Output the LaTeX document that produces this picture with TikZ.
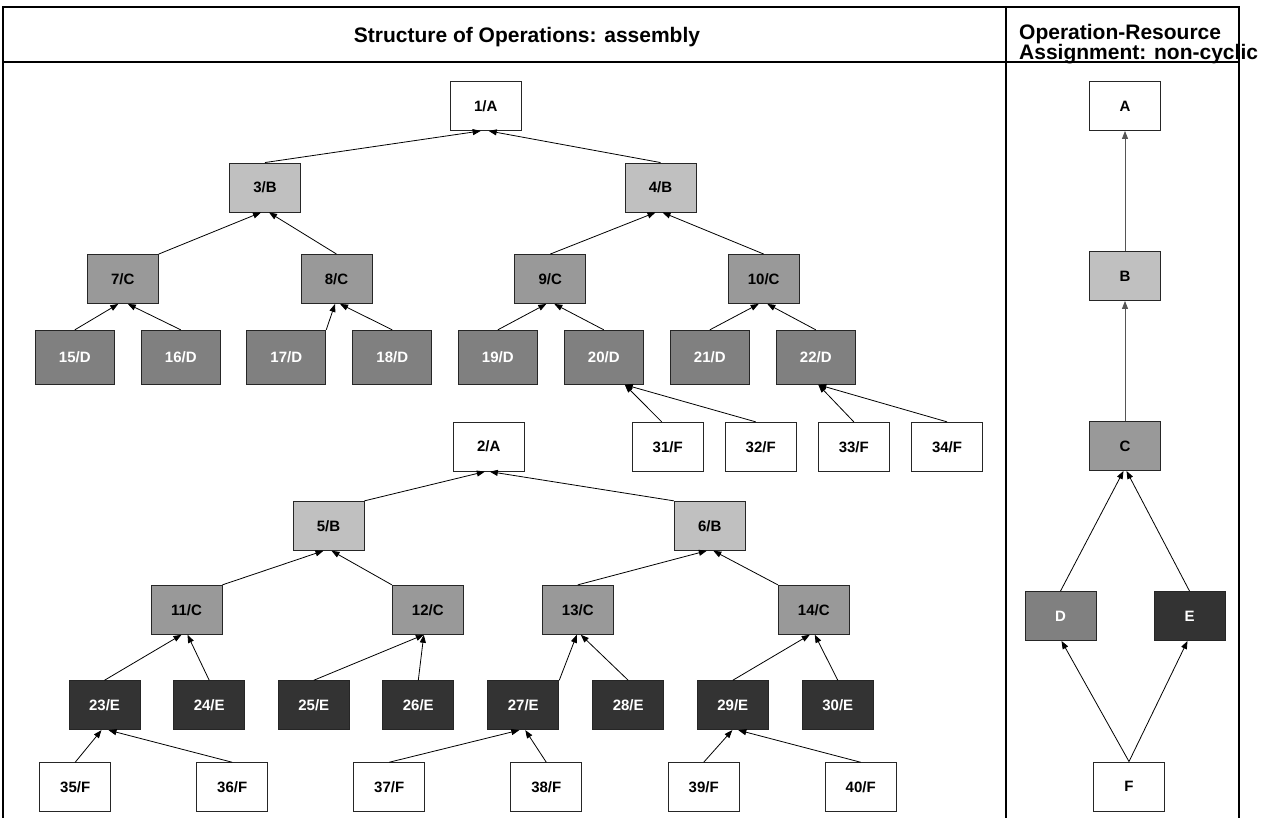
\documentclass[tikz,border=0pt]{standalone}
\usepackage{fontspec}
\setmainfont{Liberation Sans}
\usetikzlibrary{arrows.meta,calc}
\definecolor{cB}{HTML}{C0C0C0}
\definecolor{cC}{HTML}{999999}
\definecolor{cD}{HTML}{808080}
\definecolor{cE}{HTML}{333333}
\definecolor{edgeGray}{HTML}{555555}
\tikzset{
  opbox/.style={draw=black!85, line width=0.9pt, minimum width=71pt, minimum height=49pt,
    inner sep=0pt, font=\fontsize{15}{18}\selectfont\bfseries},
  boxA/.style={opbox, fill=white},
  boxB/.style={opbox, fill=cB},
  boxC/.style={opbox, fill=cC},
  boxD/.style={opbox, fill=cD, text=white, minimum width=79pt, minimum height=54pt},
  boxE/.style={opbox, fill=cE, text=white},
  boxF/.style={opbox, fill=white},
  conn/.style={-{Triangle[length=8pt,width=6pt]}, line width=0.8pt, black},
  gconn/.style={conn, edgeGray},
  frameline/.style={line width=1.1pt, black},
  headtext/.style={font=\fontsize{21}{21}\selectfont\bfseries, inner sep=0pt}
}
\begin{document}
\begin{tikzpicture}[x=1pt,y=-1pt]
\useasboundingbox (0,0) rectangle (1276,818);
% frame
\draw[frameline] (3,818) -- (3,7) -- (1239,7) -- (1239,818);
\draw[frameline] (1006,7) -- (1006,818);
\draw[frameline] (3,62) -- (1239,62);
% headers
\node[headtext] (title) at (527,37) {Structure of Operations: assembly};
\node[headtext, anchor=base west] (hr1) at (1019,39.3) {Operation-Resource};
\node[headtext, anchor=base west] (hr2) at (1019,59.3) {Assignment: non-cyclic};
% first tree
\node[boxA] (n1) at (485.7,106) {1/A};
\node[boxB] (n3) at (265,187.5) {3/B};
\node[boxB] (n4) at (660.5,187.5) {4/B};
\node[boxC] (n7) at (122.8,279) {7/C};
\node[boxC] (n8) at (336.5,279) {8/C};
\node[boxC] (n9) at (550.3,279) {9/C};
\node[boxC] (n10) at (763.7,279) {10/C};
\node[boxD] (n15) at (74.8,357.3) {15/D};
\node[boxD] (n16) at (180.8,357.3) {16/D};
\node[boxD] (n17) at (286.3,357.3) {17/D};
\node[boxD] (n18) at (392.3,357.3) {18/D};
\node[boxD] (n19) at (497.8,357.3) {19/D};
\node[boxD] (n20) at (603.8,357.3) {20/D};
\node[boxD] (n21) at (709.8,357.3) {21/D};
\node[boxD] (n22) at (815.8,357.3) {22/D};
\node[boxF] (n31) at (667.7,446.8) {31/F};
\node[boxF] (n32) at (760.7,446.8) {32/F};
\node[boxF] (n33) at (853.8,446.8) {33/F};
\node[boxF] (n34) at (947,446.8) {34/F};
% second tree
\node[boxA] (n2) at (488.8,446.7) {2/A};
\node[boxB] (n5) at (328.5,525.8) {5/B};
\node[boxB] (n6) at (709.8,525.8) {6/B};
\node[boxC] (n11) at (186.5,609.8) {11/C};
\node[boxC] (n12) at (427.8,609.8) {12/C};
\node[boxC] (n13) at (577.8,609.8) {13/C};
\node[boxC] (n14) at (813.8,609.8) {14/C};
\node[boxE] (n23) at (104.5,705.2) {23/E};
\node[boxE] (n24) at (209.2,705.2) {24/E};
\node[boxE] (n25) at (313.8,705.2) {25/E};
\node[boxE] (n26) at (418.3,705.2) {26/E};
\node[boxE] (n27) at (523.3,705.2) {27/E};
\node[boxE] (n28) at (628.2,705.2) {28/E};
\node[boxE] (n29) at (732.8,705.2) {29/E};
\node[boxE] (n30) at (837.8,705.2) {30/E};
\node[boxF] (n35) at (75.2,787.2) {35/F};
\node[boxF] (n36) at (232.2,787.2) {36/F};
\node[boxF] (n37) at (389.2,787.2) {37/F};
\node[boxF] (n38) at (546.3,787.2) {38/F};
\node[boxF] (n39) at (703.7,787.2) {39/F};
\node[boxF] (n40) at (860.7,787.2) {40/F};
% right panel
\node[boxA] (rA) at (1125,106) {A};
\node[boxB] (rB) at (1125,276) {B};
\node[boxC] (rC) at (1125,446) {C};
\node[boxD, minimum width=71pt, minimum height=49pt] (rD) at (1060.5,616) {D};
\node[boxE] (rE) at (1189.5,616) {E};
\node[boxF] (rF) at (1129,786.5) {F};
% edges first tree
\draw[conn] (n3.north) -- ($(n1.south)+(-5,0)$);
\draw[conn] (n4.north) -- ($(n1.south)+(3,0)$);
\draw[conn] (n7.north east) -- ($(n3.south)+(-4,0)$);
\draw[conn] (n8.north) -- ($(n3.south)+(4,0)$);
\draw[conn] (n9.north) -- ($(n4.south)+(-5,0)$);
\draw[conn] (n10.north) -- ($(n4.south)+(2,0)$);
\draw[conn] (n15.north) -- ($(n7.south)+(-4.5,0)$);
\draw[conn] (n16.north) -- ($(n7.south)+(5,0)$);
\draw[conn] (n17.north east) -- ($(n8.south)+(-1.5,0)$);
\draw[conn] (n18.north) -- ($(n8.south)+(3.5,0)$);
\draw[conn] (n19.north) -- ($(n9.south)+(-4,0)$);
\draw[conn] (n20.north) -- ($(n9.south)+(4,0)$);
\draw[conn] (n21.north) -- ($(n10.south)+(-5,0)$);
\draw[conn] (n22.north) -- ($(n10.south)+(3.6,0)$);
\draw[conn] ($(n31.north)+(-6,0)$) -- ($(n20.south)+(21,0)$);
\draw[conn] ($(n32.north)+(-5,0)$) -- ($(n20.south)+(21,0)$);
\draw[conn] (n33.north) -- ($(n22.south)+(2.5,0)$);
\draw[conn] (n34.north) -- ($(n22.south)+(2.5,0)$);
% edges second tree
\draw[conn] (n5.north east) -- ($(n2.south)+(-4,0)$);
\draw[conn] (n6.north west) -- ($(n2.south)+(1,0)$);
\draw[conn] (n11.north east) -- ($(n5.south)+(-5,0)$);
\draw[conn] (n12.north west) -- ($(n5.south)+(3,0)$);
\draw[conn] (n13.north) -- ($(n6.south)+(-3,0)$);
\draw[conn] (n14.north west) -- ($(n6.south)+(3.5,0)$);
\draw[conn] (n23.north) -- ($(n11.south)+(-5,0)$);
\draw[conn] (n24.north) -- ($(n11.south)+(1,0)$);
\draw[conn] (n25.north) -- ($(n12.south)+(-4,0)$);
\draw[conn] (n26.north) -- ($(n12.south)+(-4,0)$);
\draw[conn] (n27.north east) -- ($(n13.south)+(-1,0)$);
\draw[conn] (n28.north) -- ($(n13.south)+(3,0)$);
\draw[conn] (n29.north) -- ($(n14.south)+(-4,0)$);
\draw[conn] (n30.north) -- ($(n14.south)+(1,0)$);
\draw[conn] (n35.north) -- ($(n23.south)+(-3,0)$);
\draw[conn] (n36.north) -- ($(n23.south)+(4,0)$);
\draw[conn] (n37.north) -- ($(n27.south)+(-4,0)$);
\draw[conn] (n38.north) -- ($(n27.south)+(2,0)$);
\draw[conn] (n39.north) -- ($(n29.south)+(-0.5,0)$);
\draw[conn] (n40.north) -- ($(n29.south)+(5.5,0)$);
% edges right panel
\draw[gconn] (rB.north) -- (rA.south);
\draw[gconn] (rC.north) -- (rB.south);
\draw[conn] (rD.north) -- ($(rC.south)+(-1.5,0)$);
\draw[conn] (rE.north) -- ($(rC.south)+(1.5,0)$);
\draw[conn] (rF.north) -- ($(rD.south)+(1,0)$);
\draw[conn] (rF.north) -- ($(rE.south)+(-2,0)$);
\end{tikzpicture}
\end{document}
